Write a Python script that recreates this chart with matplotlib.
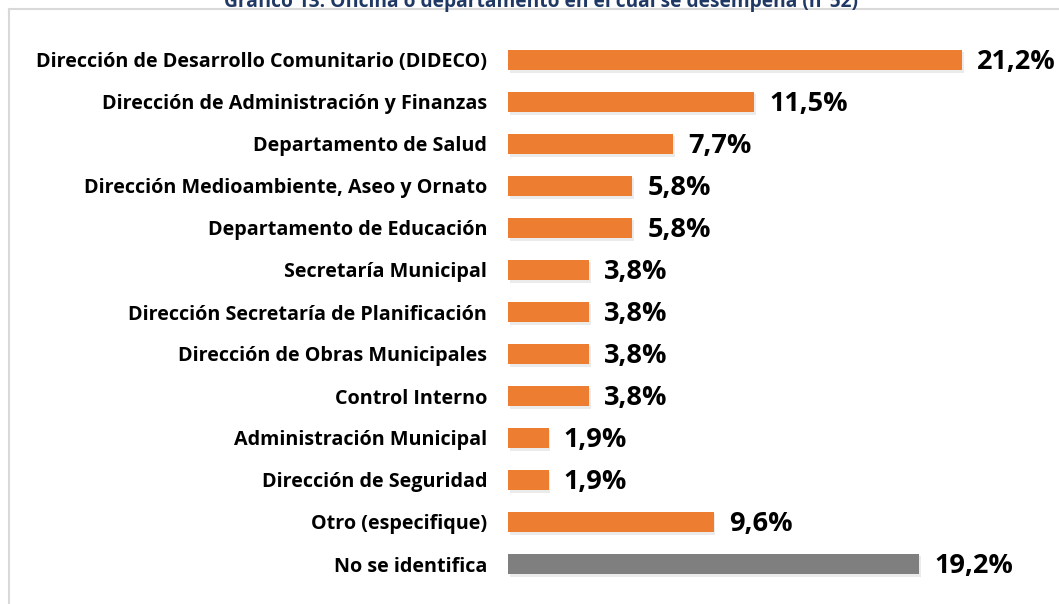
import matplotlib.pyplot as plt
from matplotlib.lines import Line2D

categorias = [
    "Dirección de Desarrollo Comunitario (DIDECO)",
    "Dirección de Administración y Finanzas",
    "Departamento de Salud",
    "Dirección Medioambiente, Aseo y Ornato",
    "Departamento de Educación",
    "Secretaría Municipal",
    "Dirección Secretaría de Planificación",
    "Dirección de Obras Municipales",
    "Control Interno",
    "Administración Municipal",
    "Dirección de Seguridad",
    "Otro (especifique)",
    "No se identifica",
]
porcentajes = [21.2, 11.5, 7.7, 5.8, 5.8, 3.8, 3.8, 3.8, 3.8, 1.9, 1.9, 9.6, 19.2]
colores = ["#ED7D31"] * 12 + ["#7F7F7F"]

plt.rcParams['font.family'] = ['Open Sans', 'DejaVu Sans']

W, H = 1059, 604
fig = plt.figure(figsize=(W / 100, H / 100), dpi=100)
ax = fig.add_axes([508 / W, 1 - 585 / H, (1040 - 508) / W, (585 - 39) / H])

y = list(range(len(categorias)))
# sombra suave bajo cada barra
ax.barh([v + 0.06 for v in y], porcentajes, left=0.08, height=0.5,
        color="#000000", alpha=0.08, zorder=1)
ax.barh(y, porcentajes, height=0.48, color=colores, zorder=2)

for yi, v in zip(y, porcentajes):
    ax.text(v + 0.7, yi + 0.04, f"{v:.1f}%".replace(".", ","), va="center", ha="left",
            fontsize=19.5, fontweight="bold", color="black")

ax.set_yticks(y)
ax.set_yticklabels(categorias, fontsize=14.2, fontweight="bold")
ax.tick_params(axis="y", length=0, pad=15)
ax.set_xticks([])
ax.set_xlim(0, (1040 - 508) / 21.42)
ax.set_ylim(len(categorias) - 0.5, -0.5)
for s in ax.spines.values():
    s.set_visible(False)

# título recortado en el borde superior
fig.text(541 / W, 1 - 7 / H, "Gráfico 13: Oficina o departamento en el cual se desempeña (n°52)",
         ha="center", va="baseline", fontsize=13.8, fontweight="bold", color="#1F3864")

# marco gris claro
fig.add_artist(Line2D([9 / W, 9 / W], [0, 1 - 9 / H], color="#D9D9D9", lw=1.5))
fig.add_artist(Line2D([9 / W, 1], [1 - 9 / H, 1 - 9 / H], color="#D9D9D9", lw=1.5))

fig.savefig("out.png", dpi=100)
